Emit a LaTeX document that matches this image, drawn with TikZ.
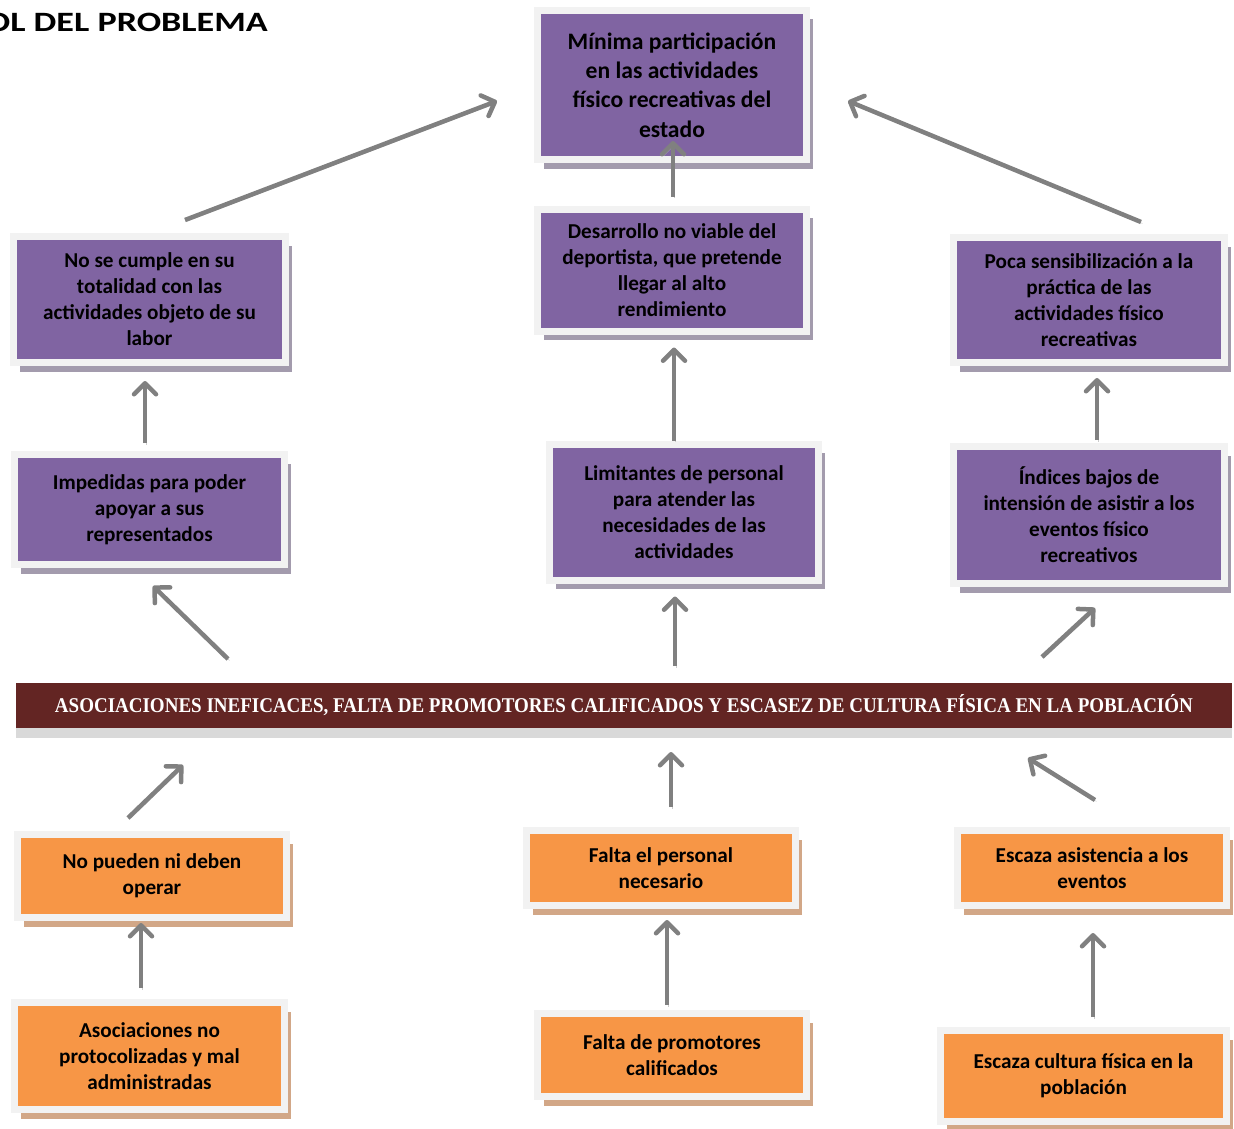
\documentclass[tikz,border=0pt]{standalone}
\usepackage{fontspec}
\setmainfont{Carlito}
\newfontfamily\bannerfont{Liberation Serif}
\usetikzlibrary{arrows.meta,shadows}

\definecolor{morado}{HTML}{8064A2}
\definecolor{naranja}{HTML}{F79646}
\definecolor{granate}{HTML}{632523}
\definecolor{marco}{HTML}{F2F2F2}
\definecolor{sombramorado}{HTML}{A39BAD}
\definecolor{sombranaranja}{HTML}{D2A787}
\definecolor{grisflecha}{HTML}{808080}

\tikzset{
 caja/.style={draw=marco, line width=7pt, inner sep=2pt, align=center,
  font=\bfseries\fontsize{21.2}{26}\selectfont},
 efecto/.style={caja, fill=morado,
  drop shadow={shadow xshift=6pt, shadow yshift=-9pt, fill=sombramorado, opacity=1}},
 causa/.style={caja, fill=naranja,
  drop shadow={shadow xshift=6pt, shadow yshift=-9pt, fill=sombranaranja, opacity=1}},
 flecha/.style={line width=4.5pt, draw=grisflecha,
  -{Straight Barb[length=11pt,width=22pt,round]},
  preaction={draw=gray!40, transform canvas={shift={(1.5pt,-1.5pt)}}}}
}

\begin{document}
\begin{tikzpicture}[x=1pt,y=-1pt]
 \useasboundingbox (0,0) rectangle (1234,1129);

 \node[anchor=base east, inner sep=0pt, font=\bfseries\fontsize{28}{34}\selectfont] (titulo) at (268,31.7)
  {\scalebox{1.29}[1]{OL DEL PROBLEMA}};

 % efectos
 \node[efecto, minimum width=269pt, minimum height=149pt,
  font=\bfseries\fontsize{23.6}{29.3}\selectfont] (b0) at (672,85)
  {Mínima participación\\en las actividades\\físico recreativas del\\estado};
 \node[efecto, minimum width=269pt, minimum height=122pt] (b1) at (672,270)
  {Desarrollo no viable del\\deportista, que pretende\\llegar al alto\\rendimiento};
 \node[efecto, minimum width=272pt, minimum height=126pt] (b2) at (149.5,299.5)
  {No se cumple en su\\totalidad con las\\actividades objeto de su\\labor};
 \node[efecto, minimum width=271pt, minimum height=125pt] (b3) at (1089,300)
  {Poca sensibilización a la\\práctica de las\\actividades físico\\recreativas};
 \node[efecto, minimum width=270pt, minimum height=110pt] (b4) at (149.5,509.5)
  {Impedidas para poder\\apoyar a sus\\representados};
 \node[efecto, minimum width=269pt, minimum height=136pt] (b6) at (684,512)
  {Limitantes de personal\\para atender las\\necesidades de las\\actividades};
 \node[efecto, minimum width=271pt, minimum height=137pt] (b7) at (1089,515)
  {Índices bajos de\\intensión de asistir a los\\eventos físico\\recreativos};

 % problema central
 \node[fill=granate, minimum width=1216pt, minimum height=45pt, inner sep=0pt, outer sep=0pt,
  text=white, font=\bannerfont\bfseries\fontsize{21}{24}\selectfont,
  drop shadow={shadow xshift=0pt, shadow yshift=-10pt, fill=gray!30, opacity=1}] (bn) at (624,705.5)
  {\scalebox{0.905}[1]{ASOCIACIONES INEFICACES, FALTA DE PROMOTORES CALIFICADOS Y ESCASEZ DE CULTURA FÍSICA EN LA POBLACIÓN}};

 % causas
 \node[causa, minimum width=269pt, minimum height=83pt] (b8) at (152,876)
  {No pueden ni deben\\operar};
 \node[causa, minimum width=270pt, minimum height=107pt] (b9) at (149.5,1056)
  {Asociaciones no\\protocolizadas y mal\\administradas};
 \node[causa, minimum width=269pt, minimum height=75pt] (b10) at (661,868)
  {Falta el personal\\necesario};
 \node[causa, minimum width=269pt, minimum height=83pt] (b11) at (672,1055)
  {Falta de promotores\\calificados};
 \node[causa, minimum width=269pt, minimum height=75pt] (b12) at (1092,868)
  {Escaza asistencia a los\\eventos};
 \node[causa, minimum width=286pt, minimum height=91pt] (b13) at (1083.5,1076)
  {Escaza cultura física en la\\población};

 % flechas
 \draw[flecha] ([shift={(35.5,-13)}]b2.north) -- ([shift={(-37,16)}]b0.west);
 \draw[flecha] ([shift={(1,-9)}]b1.north) -- ([shift={(1,-22)}]b0.south);
 \draw[flecha] ([shift={(52,-12)}]b3.north) -- ([shift={(38,16)}]b0.east);
 \draw[flecha] ([shift={(-4.5,-8)}]b4.north) -- ([shift={(-4.5,15)}]b2.south);
 \draw[flecha] ([shift={(-10,0)}]b6.north) -- ([shift={(2,13)}]b1.south);
 \draw[flecha] ([shift={(8,-3)}]b7.north) -- ([shift={(8,12)}]b3.south);
 \draw[flecha] ([shift={(212,-24)}]bn.north west) -- ([shift={(3.5,18)}]b4.south);
 \draw[flecha] ([shift={(51,-17)}]bn.north) -- ([shift={(-9,13)}]b6.south);
 \draw[flecha] ([shift={(-190,-26)}]bn.north east) -- ([shift={(6,21)}]b7.south);
 \draw[flecha] ([shift={(-24,-13)}]b8.north) -- ([shift={(167,37)}]bn.south west);
 \draw[flecha] ([shift={(10,-20)}]b10.north) -- ([shift={(47,24)}]bn.south);
 \draw[flecha] ([shift={(3,-27)}]b12.north) -- ([shift={(-204,30)}]bn.south east);
 \draw[flecha] ([shift={(-8.5,-11)}]b9.north) -- ([shift={(-11,2)}]b8.south);
 \draw[flecha] ([shift={(-5,-5)}]b11.north) -- ([shift={(6,11)}]b10.south);
 \draw[flecha] ([shift={(9.5,-10)}]b13.north) -- ([shift={(1,24)}]b12.south);
\end{tikzpicture}
\end{document}
